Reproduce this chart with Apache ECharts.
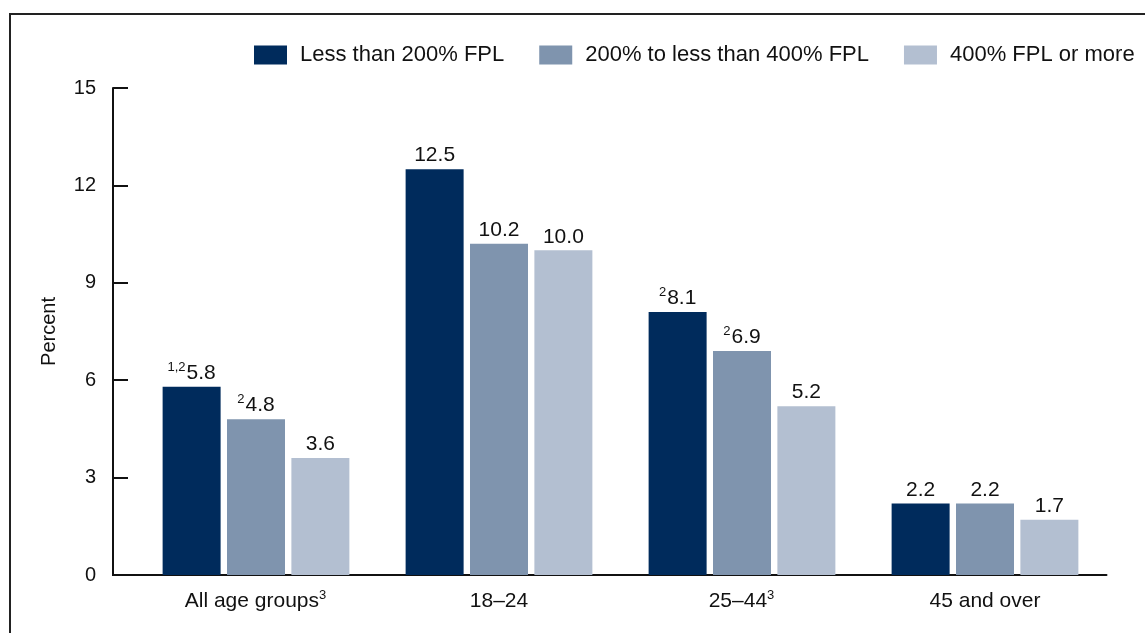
<!DOCTYPE html>
<html>
<head>
<meta charset="utf-8">
<script src="https://cdn.jsdelivr.net/npm/echarts@6/dist/echarts.min.js"></script>
<style>html,body{margin:0;padding:0;background:#fff}#c{width:1145px;height:633px}</style>
</head>
<body>
<div id="c"></div>
<script>
const categories = ['All age groups', '18–24', '25–44', '45 and over'];
const categorySup = ['3', '', '3', ''];
const seriesNames = ['Less than 200% FPL', '200% to less than 400% FPL', '400% FPL or more'];
const lowIncome = [5.8, 12.5, 8.1, 2.2];
const midIncome = [4.8, 10.2, 6.9, 2.2];
const highIncome = [3.6, 10.0, 5.2, 1.7];
const lowSup = ['1,2', '', '2', ''];
const midSup = ['2', '', '2', ''];
const highSup = ['', '', '', ''];
const yTicks = [0, 3, 6, 9, 12, 15];
const colors = ['#002b5c', '#7f94ae', '#b3bfd1'];

const FONT = 'Liberation Sans, Arial, sans-serif';
const FS = 20;
const rich = {
  v: {fontSize: 21, color: '#111', fontFamily: FONT, lineHeight: 23, verticalAlign: 'bottom'},
  s: {fontSize: 13, color: '#111', fontFamily: FONT, lineHeight: 23, verticalAlign: 'top', padding: [0, 1, 9, 0]}
};
function mkSeries(name, vals, sups, color) {
  return {
    name: name, type: 'bar', barWidth: 58, barGap: '11%',
    itemStyle: {color: color},
    data: vals.map((v, i) => ({value: v, sup: sups[i]})),
    label: {
      show: true, position: 'top', distance: 3,
      formatter: p => (p.data.sup ? '{s|' + p.data.sup + '}' : '') + '{v|' + p.value.toFixed(1) + '}',
      rich: rich
    }
  };
}
const chart = echarts.init(document.getElementById('c'), null, {renderer: 'canvas'});
chart.setOption({
  animation: false,
  grid: {left: 134.5, right: 38.5, top: 88, bottom: 58},
  legend: {
    left: 254, top: 44, width: 890, padding: 0, orient: 'horizontal',
    itemWidth: 33, itemHeight: 19, itemGap: 35, icon: 'rect',
    textStyle: {fontSize: 22, color: '#111', fontFamily: FONT, padding: [0, 0, 0, 8]},
    data: seriesNames
  },
  xAxis: {
    type: 'category', data: categories,
    axisLine: {lineStyle: {color: '#111', width: 2}},
    axisTick: {show: false},
    axisLabel: {
      margin: 14,
      formatter: (v, i) => '{v|' + v + '}' + (categorySup[i] ? '{s|' + categorySup[i] + '}' : ''),
      rich: rich
    }
  },
  yAxis: {
    type: 'value', min: 0, max: 15, interval: 3, offset: 21.5,
    name: 'Percent', nameLocation: 'middle', nameGap: 54,
    nameTextStyle: {fontSize: FS, color: '#111', fontFamily: FONT},
    axisLine: {show: true, lineStyle: {color: '#111', width: 2}},
    axisTick: {show: true, inside: true, length: 15, lineStyle: {color: '#111', width: 2}},
    splitLine: {show: false},
    axisLabel: {fontSize: FS, color: '#111', fontFamily: FONT, margin: 17,
      formatter: v => yTicks.indexOf(v) >= 0 ? String(v) : ''}
  },
  graphic: [
    {type: 'rect', shape: {x: 10, y: 14, width: 1200, height: 700},
     style: {fill: 'none', stroke: '#222', lineWidth: 2}, silent: true},
    {type: 'line', shape: {x1: 112, y1: 575, x2: 136, y2: 575},
     style: {stroke: '#111', lineWidth: 2}, silent: true}
  ],
  series: [
    mkSeries(seriesNames[0], lowIncome, lowSup, colors[0]),
    mkSeries(seriesNames[1], midIncome, midSup, colors[1]),
    mkSeries(seriesNames[2], highIncome, highSup, colors[2])
  ]
});
</script>
</body>
</html>
